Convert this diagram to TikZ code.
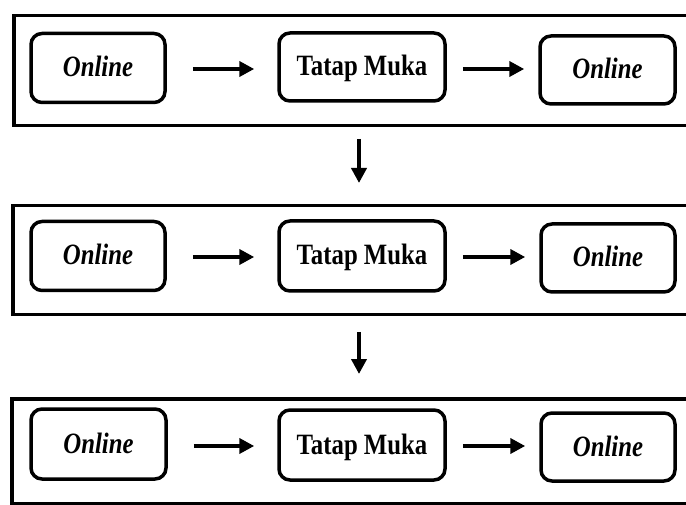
\documentclass[tikz,border=0pt]{standalone}
\usepackage{fontspec}
\setmainfont{Liberation Serif}
\newfontfamily\tnr[FakeStretch=0.84]{Liberation Serif}
\usetikzlibrary{arrows.meta}
\tikzset{
  frame/.style={draw=black, line width=3.5pt, rectangle, inner sep=0pt, anchor=north west},
  stepbox/.style={draw=black, line width=3.5pt, rounded corners=11pt, rectangle, inner sep=0pt,
    text height=20pt, text depth=2pt,
    font=\tnr\fontsize{29.5}{32}\selectfont\bfseries, text=black},
  flow/.style={line width=4pt, -{Triangle[length=15pt,width=15pt]}},
}
\newcommand{\onl}{\textit{Online}}
\begin{document}
\begin{tikzpicture}[x=1pt,y=-1pt]
\useasboundingbox (0,0) rectangle (686,505);
\clip (0,0) rectangle (686,505);
\fill[white] (0,0) rectangle (686,505);
% frames
\node[frame, minimum width=690pt, minimum height=110pt] (f1) at (12,14) {};
\node[frame, minimum width=690pt, minimum height=109pt] (f2) at (11,204) {};
\node[frame, minimum width=690pt, minimum height=105pt] (f3) at (10,397) {};
% row 1
\node[stepbox, minimum width=134pt, minimum height=69pt] (a1) at (98,68) {\onl};
\node[stepbox, minimum width=166pt, minimum height=68pt] (b1) at (362,67) {Tatap Muka};
\node[stepbox, minimum width=135pt, minimum height=68pt] (c1) at (607.5,70) {\onl};
% row 2
\node[stepbox, minimum width=134pt, minimum height=69pt] (a2) at (98,256) {\onl};
\node[stepbox, minimum width=166pt, minimum height=70pt] (b2) at (362,256) {Tatap Muka};
\node[stepbox, minimum width=134pt, minimum height=68pt] (c2) at (608,258) {\onl};
% row 3
\node[stepbox, minimum width=135pt, minimum height=70pt] (a3) at (98.5,444) {\onl};
\node[stepbox, minimum width=166pt, minimum height=70pt] (b3) at (362,445) {Tatap Muka};
\node[stepbox, minimum width=134pt, minimum height=68pt] (c3) at (608,447) {\onl};
% horizontal arrows
\draw[flow, shorten <=26pt, shorten >=23pt] (a1.east |- 0,69) -- (b1.west |- 0,69);
\draw[flow, shorten <=16pt, shorten >=14pt] (b1.east |- 0,69) -- (c1.west |- 0,69);
\draw[flow, shorten <=26pt, shorten >=23pt] (a2.east |- 0,257) -- (b2.west |- 0,257);
\draw[flow, shorten <=16pt, shorten >=14pt] (b2.east |- 0,257) -- (c2.west |- 0,257);
\draw[flow, shorten <=26pt, shorten >=23pt] (a3.east |- 0,446) -- (b3.west |- 0,446);
\draw[flow, shorten <=16pt, shorten >=14pt] (b3.east |- 0,446) -- (c3.west |- 0,446);
% vertical arrows
\coordinate (d1s) at (359,139);
\coordinate (d1e) at (359,183);
\coordinate (d2s) at (359,332);
\coordinate (d2e) at (359,374);
\draw[flow] (d1s) -- (d1e);
\draw[flow] (d2s) -- (d2e);
\end{tikzpicture}
\end{document}
